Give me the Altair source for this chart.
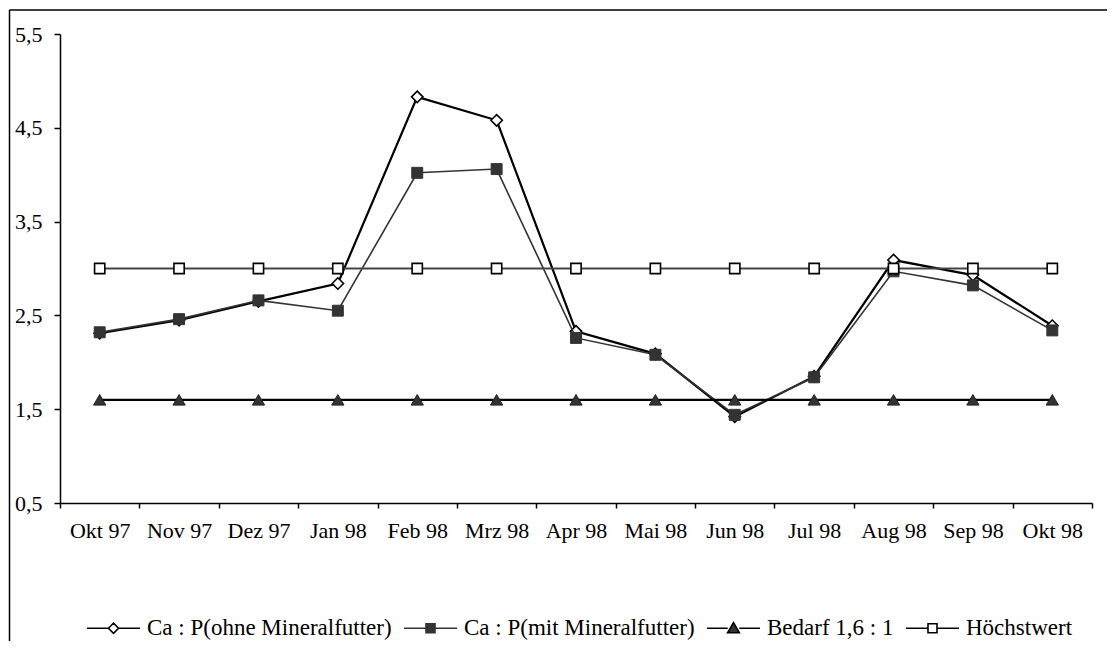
import altair as alt
import pandas as pd

months = ["Okt 97", "Nov 97", "Dez 97", "Jan 98", "Feb 98", "Mrz 98", "Apr 98",
          "Mai 98", "Jun 98", "Jul 98", "Aug 98", "Sep 98", "Okt 98"]
ohne = [2.31, 2.45, 2.65, 2.84, 4.83, 4.58, 2.33, 2.09, 1.42, 1.85, 3.09, 2.93, 2.39]
mit = [2.32, 2.46, 2.66, 2.55, 4.02, 4.06, 2.26, 2.08, 1.44, 1.84, 2.97, 2.82, 2.34]
bedarf = [1.6, 1.6, 1.6, 1.6, 1.6, 1.6, 1.6, 1.6, 1.6, 1.6, 1.6, 1.6, 1.6]
hoechst = [3.0, 3.0, 3.0, 3.0, 3.0, 3.0, 3.0, 3.0, 3.0, 3.0, 3.0, 3.0, 3.0]
series_names = ["Ca : P(ohne Mineralfutter)", "Ca : P(mit Mineralfutter)",
                "Bedarf 1,6 : 1", "Höchstwert"]
y_ticks = [0.5, 1.5, 2.5, 3.5, 4.5, 5.5]

FONT = "Liberation Serif"
W, H = 1032, 469

rows = []
for name, vals in zip(series_names, [ohne, mit, bedarf, hoechst]):
    for m, v in zip(months, vals):
        rows.append({"month": m, "series": name, "value": v})
df = pd.DataFrame(rows)

x_enc = alt.X(
    "month:N", sort=months, bandPosition=0.5,
    scale=alt.Scale(type="band", domain=months, paddingInner=0, paddingOuter=0),
    axis=alt.Axis(title=None, labelAngle=0, tickBand="extent", tickSize=5,
                  tickColor="black", tickWidth=1.5, domainColor="black",
                  domainWidth=1.5, labelFont=FONT, labelFontSize=22,
                  labelColor="black", labelPadding=12, grid=False),
)
y_enc = alt.Y(
    "value:Q",
    scale=alt.Scale(domain=[0.5, 5.5], nice=False, zero=False),
    axis=alt.Axis(title=None, values=y_ticks,
                  labelExpr="replace(format(datum.value, '.1f'), '.', ',')",
                  tickSize=6, tickColor="black", tickWidth=1.5,
                  domainColor="black", domainWidth=1.5, labelFont=FONT,
                  labelFontSize=22, labelColor="black", labelPadding=12,
                  grid=False),
)

styles = {
    series_names[0]: dict(lc="black", lw=2.2, shape="diamond", fill="white",
                          stroke="black", size=130, sw=1.6),
    series_names[1]: dict(lc="#333333", lw=1.6, shape="square", fill="#333333",
                          stroke="#333333", size=120, sw=1),
    series_names[2]: dict(lc="black", lw=2.2, shape="triangle-up", fill="#333333",
                          stroke="#222222", size=150, sw=1),
    series_names[3]: dict(lc="#444444", lw=1.8, shape="square", fill="white",
                          stroke="black", size=105, sw=1.6),
}

base = alt.Chart(df)
layers = []
for name in series_names:
    s = styles[name]
    sub = base.transform_filter(alt.datum.series == name)
    layers.append(sub.mark_line(color=s["lc"], strokeWidth=s["lw"]).encode(x=x_enc, y=y_enc))
    layers.append(sub.mark_point(shape=s["shape"], filled=True, fill=s["fill"],
                                 stroke=s["stroke"], strokeWidth=s["sw"],
                                 size=s["size"], opacity=1).encode(x=x_enc, y=y_enc))

# legend symbols: line + marker
legend_paths = [
    "M-1,0L-0.19,0M0.19,0L1,0M-0.19,0L0,-0.19L0.19,0L0,0.19Z",
    "M-1,0L-0.17,0M0.17,0L1,0M-0.17,-0.17L0.17,-0.17L0.17,0.17L-0.17,0.17Z",
    "M-1,0L-0.22,0M0.22,0L1,0M-0.22,0.17L0,-0.21L0.22,0.17Z",
    "M-1,0L-0.17,0M0.17,0L1,0M-0.17,-0.17L0.17,-0.17L0.17,0.17L-0.17,0.17Z",
]
legend_fills = ["white", "#333333", "#333333", "white"]
legend_strokes = ["black", "#333333", "black", "black"]
SYM = 2809

leg = alt.Legend(title=None, orient="none", legendX=26, legendY=566.5,
                 direction="horizontal", columns=4, columnPadding=8,
                 labelFont=FONT, labelFontSize=23, labelColor="black",
                 labelOffset=6, symbolSize=SYM, symbolStrokeWidth=1.6,
                 symbolStrokeColor="black", symbolOpacity=1, padding=0,
                 labelLimit=0)

legend_df = pd.DataFrame({"series": series_names, "month": [months[0]] * 4,
                          "value": [0.0] * 4})
legend_layer = alt.Chart(legend_df).mark_point(
    filled=False, clip=True, strokeWidth=1.6, size=SYM, opacity=1
).encode(
    x=x_enc, y=y_enc,
    shape=alt.Shape("series:N", scale=alt.Scale(domain=series_names, range=legend_paths), legend=leg),
    fill=alt.Fill("series:N", scale=alt.Scale(domain=series_names, range=legend_fills), legend=leg),
    stroke=alt.Stroke("series:N", scale=alt.Scale(domain=series_names, range=legend_strokes), legend=leg),
)

frame_df = pd.DataFrame({"a": [0]})
frame_left = alt.Chart(frame_df).mark_rule(color="black", strokeWidth=1.5).encode(
    x=alt.value(-50.5), y=alt.value(-24), y2=alt.value(H + 200))
frame_top = alt.Chart(frame_df).mark_rule(color="black", strokeWidth=1.5).encode(
    x=alt.value(-50.5), x2=alt.value(W + 100), y=alt.value(-24))

chart = alt.layer(*layers, legend_layer, frame_left, frame_top).properties(
    width=W, height=H,
    autosize=alt.AutoSizeParams(type="none"),
    padding={"left": 52, "top": 26, "right": 15, "bottom": 138},
    background="white",
).configure(font=FONT).configure_view(stroke=None)

chart.save("out.html", embed_options={"renderer": "svg", "actions": False})
